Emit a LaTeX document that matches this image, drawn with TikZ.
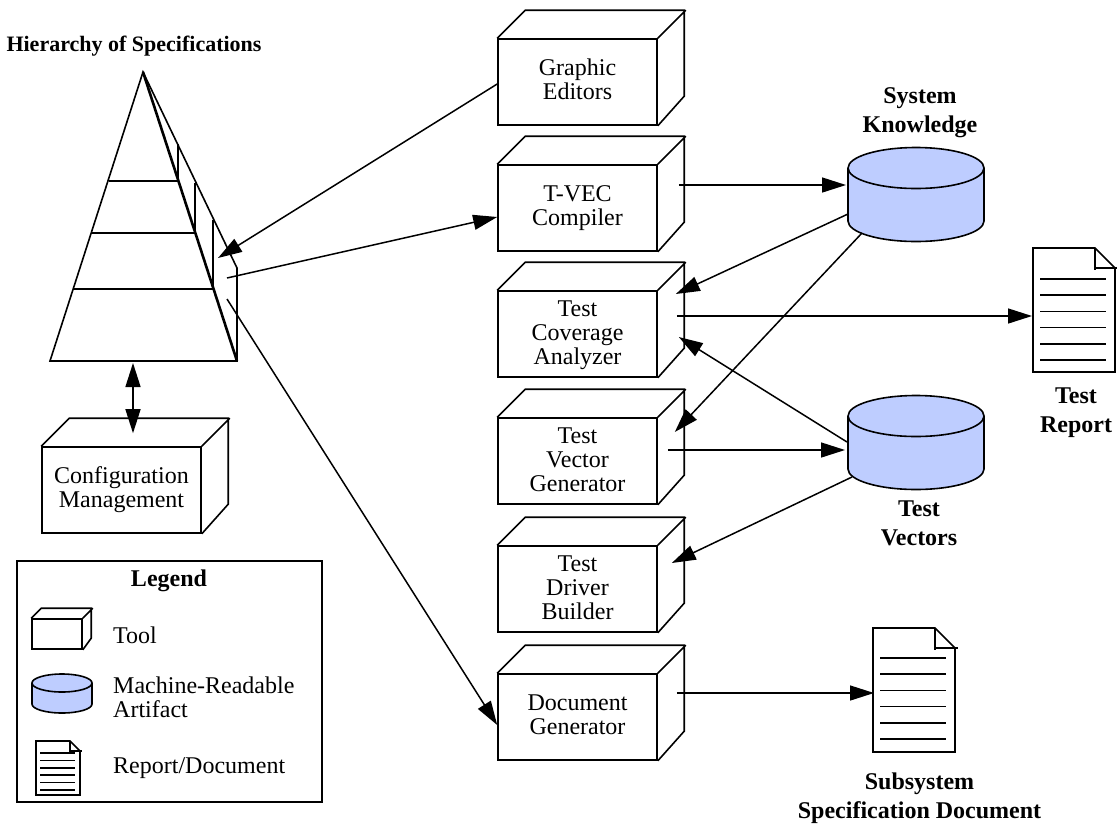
\documentclass[tikz,border=0pt]{standalone}
\usepackage{fontspec}
\setmainfont{Liberation Serif}
\usetikzlibrary{arrows.meta,calc}
\definecolor{cylblue}{RGB}{190,205,255}
\newcommand{\ls}{\rule[-7pt]{0pt}{24pt}}
\newcommand{\lt}{\rule[-7pt]{0pt}{27pt}}
\tikzset{
  line/.style={line width=1.6pt,line join=miter,line cap=butt},
  conn/.style={line width=1.5pt,-{Triangle[length=24pt,width=15pt]}},
  conntwo/.style={line width=1.5pt,{Triangle[length=24pt,width=15pt]}-{Triangle[length=24pt,width=15pt]}},
  toolface/.style={line,draw,minimum width=#1,inner sep=0pt,align=center,font=\fontsize{24}{24}\selectfont},
  label/.style={inner sep=0pt,align=center,font=\fontsize{24}{29}\selectfont\bfseries},
  legtext/.style={inner sep=0pt,align=left,anchor=west,font=\fontsize{24}{24}\selectfont},
}
% name, cx, cy, width, height, depth, text
\newcommand{\toolbox}[7]{%
  \node[toolface=#4 pt,minimum height=#5 pt] (#1) at (#2,#3) {#7};
  \draw[line] (#1.north west) -- ++(#6,-#6) -- ++(#4,0) -- ++(0,#5) -- (#1.south east)
              (#1.north east) -- ++(#6,-#6);
}
% name, cx, top-ellipse y, width, body height, ry
\newcommand{\cylinder}[6]{%
  \coordinate (#1) at (#2,#3);
  \draw[line,fill=cylblue] ($(#1)+(-#4/2,0)$) arc[start angle=180,end angle=360,x radius=#4/2,y radius=#6]
     -- ++(0,#5) arc[start angle=0,end angle=180,x radius=#4/2,y radius=#6] -- cycle;
  \draw[line] ($(#1)+(-#4/2,0)$) arc[start angle=180,end angle=0,x radius=#4/2,y radius=#6];
}
% name, left, top, width, height, fold, line inset, first line dy, step
\newcommand{\docicon}[9]{%
  \coordinate (#1) at (#2,#3);
  \draw[line] (#1) -- ++(#4-#6,0) -- ++(#6,#6) -- ++(0,#5-#6) -- ++(-#4,0) -- cycle;
  \draw[line] ($(#1)+(#4-#6,0)$) -- ++(0,#6+#6*0.1) ($(#1)+(#4-#6,#6)$) -- ++(#6+#6*0.15,0);
  \foreach \k in {0,...,5}
    \draw[line] ($(#1)+(#7,#8+\k*#9)$) -- ($(#1)+(#4-#7-#6*0.1,#8+\k*#9)$);
}
\begin{document}
\begin{tikzpicture}[x=1pt,y=-1pt]
\useasboundingbox (0,0) rectangle (1117,823);
\fill[white] (0,0) rectangle (1117,823);

% pyramid
\coordinate (apex) at (143,72);
\coordinate (bl) at (50,361);
\coordinate (br) at (237,361);
\coordinate (bk) at (237,268);
\draw[line] (apex) -- (bl) -- (br) -- (bk) -- cycle;
\draw[line width=2.6pt] (apex) -- (br);
\draw[line] (109,181) -- (178,181) -- (178,144);
\draw[line] (92,233) -- (195,233) -- (195,183);
\draw[line] (74,289) -- (213,289) -- (213,220);
\coordinate (pyrin) at (218,258);
\coordinate (pyrout) at (227,278);
\coordinate (pyrdoc) at (227,299);
\coordinate (pyrbase) at (133,363);
\node[label,font=\fontsize{22}{29}\selectfont\bfseries] (hier) at (134,46) {Hierarchy of Specifications};

% tools
\toolbox{ge}{577.5}{82}{159}{86}{28}{Graphic\ls\\Editors\ls}
\toolbox{tv}{577.5}{208}{159}{86}{28}{T-VEC\ls\\Compiler\ls}
\toolbox{tc}{577.5}{334}{159}{86}{28}{Test\lt\\Coverage\ls\\Analyzer\ls}
\toolbox{vg}{577.5}{461}{159}{86}{28}{Test\lt\\Vector\ls\\Generator\ls}
\toolbox{dr}{577.5}{589}{159}{86}{28}{Test\lt\\Driver\ls\\Builder\ls}
\toolbox{dg}{577.5}{717}{159}{86}{28}{Document\ls\\Generator\ls}
\toolbox{cm}{121.5}{490}{159}{86}{28}{Configuration\ls\\Management\ls}

% artifacts
\cylinder{sk}{916}{168}{136}{53}{20.5}
\cylinder{tvc}{916}{416}{136}{53}{20.5}
\node[label] (sklabel) at (920,112.5) {System\\Knowledge};
\node[label] (tvlabel) at (919,523.5) {Test\\Vectors};

% documents
\docicon{rep}{1033}{248}{82}{124}{20}{7}{31}{16.2}
\docicon{sub}{873}{628}{82}{124}{20}{7}{30}{16.2}
\node[label] (replabel) at (1076,412.5) {Test\\Report};
\node[label] (sublabel) at (919.5,798) {Subsystem\\Specification Document};

% connectors
\draw[conn] (ge.west|-0,84) -- (pyrin);
\draw[conn] (pyrout) -- ([yshift=-9pt]tv.west);
\draw[conn] (pyrdoc) -- ([yshift=-8pt]dg.west);
\draw[conntwo] (pyrbase) -- ([shift={(11.5,-13)}]cm.north);
\draw[conn] ([shift={(21,-23)}]tv.east) -- ([shift={(-70,17)}]sk);
\draw[conn] ([shift={(-68,46)}]sk) -- ([shift={(18,-40)}]tc.east);
\draw[conn] ([shift={(-54,65)}]sk) -- ([shift={(17,-29)}]vg.east);
\draw[conn] ([shift={(19,-18)}]tc.east) -- ([shift={(-1,68)}]rep);
\draw[conn] ([shift={(-69,26)}]tvc) -- ([shift={(21,3)}]tc.east);
\draw[conn] ([shift={(10,-11)}]vg.east) -- ([shift={(-71,34)}]tvc);
\draw[conn] ([shift={(-64,61)}]tvc) -- ([shift={(14,-26)}]dr.east);
\draw[conn] ([shift={(19,-24)}]dg.east) -- ([shift={(1,65)}]sub);

% legend
\node[line,draw,minimum width=305pt,minimum height=241pt,inner sep=0pt] (legend) at (169.5,681.5) {};
\node[label] (legtitle) at (169,581) {Legend};
\toolbox{ltool}{57}{634}{50}{30}{10}{}
\cylinder{lcyl}{62}{683}{60}{21}{9}
\docicon{ldoc}{36}{741}{44}{54}{10}{4}{12}{7.4}
\node[legtext] (lt) at (113,635) {Tool};
\node[legtext] (lc) at (113,697.5) {Machine-Readable\\Artifact};
\node[legtext] (ld) at (113,768.5) {Report/Document};
\end{tikzpicture}
\end{document}
